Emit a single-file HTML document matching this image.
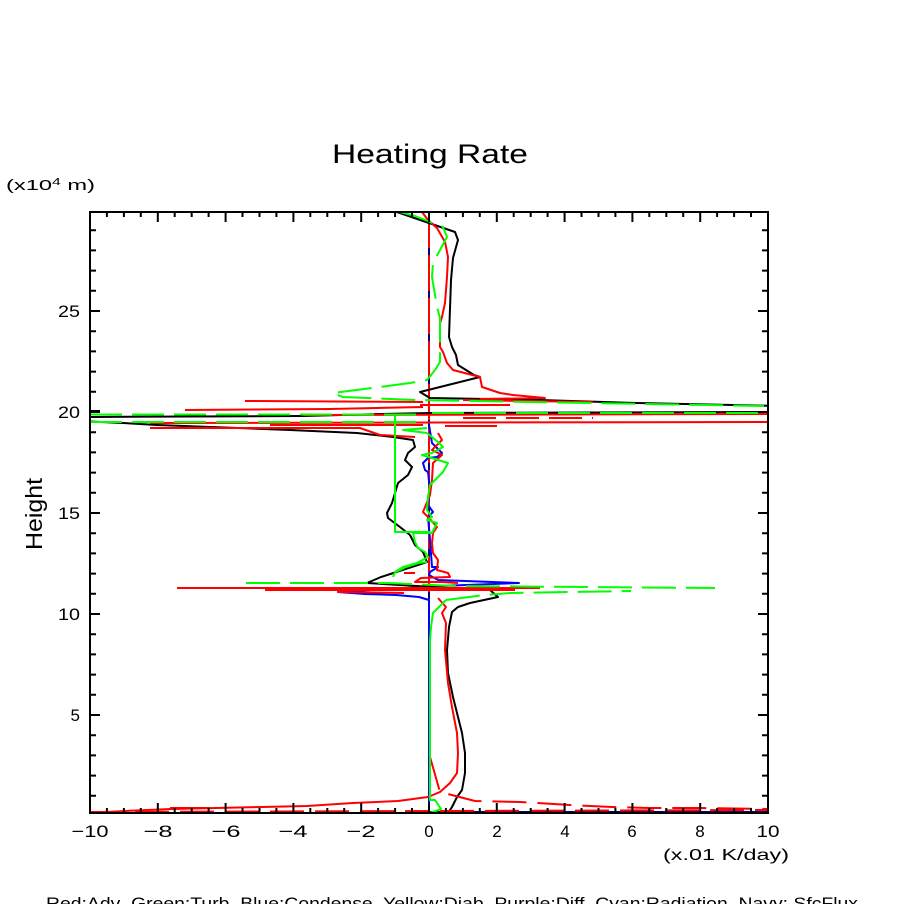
<!DOCTYPE html>
<html>
<head>
<meta charset="utf-8">
<style>
html,body{margin:0;padding:0;background:#fff;}
svg{display:block;}
text{font-family:"Liberation Sans",sans-serif;fill:#000;}
</style>
</head>
<body>
<svg width="904" height="904" viewBox="0 0 904 904" xmlns="http://www.w3.org/2000/svg">
<defs>
<clipPath id="plot"><rect x="90" y="212" width="678" height="601"/></clipPath>
</defs>
<rect x="0" y="0" width="904" height="904" fill="#fff"/>

<!-- Title and labels -->
<text x="430" y="163" font-size="27" text-anchor="middle" textLength="196" lengthAdjust="spacingAndGlyphs">Heating Rate</text>
<text x="6" y="190" font-size="15" textLength="89" lengthAdjust="spacingAndGlyphs">(x10<tspan font-size="10" dy="-5">4</tspan><tspan dy="5"> m)</tspan></text>
<text transform="translate(42,514) rotate(-90)" font-size="23" text-anchor="middle" textLength="72" lengthAdjust="spacingAndGlyphs">Height</text>
<text x="663" y="860" font-size="16" textLength="126" lengthAdjust="spacingAndGlyphs">(x.01 K/day)</text>
<text x="46" y="909" font-size="17" xml:space="preserve" style="white-space:pre" textLength="812" lengthAdjust="spacingAndGlyphs">Red:Adv  Green:Turb  Blue:Condense  Yellow:Diab  Purple:Diff  Cyan:Radiation  Navy: SfcFlux</text>

<!-- X tick labels -->
<g font-size="17" text-anchor="middle">
<text x="90" y="837" textLength="37" lengthAdjust="spacingAndGlyphs">−10</text>
<text x="158" y="837" textLength="29" lengthAdjust="spacingAndGlyphs">−8</text>
<text x="226" y="837" textLength="29" lengthAdjust="spacingAndGlyphs">−6</text>
<text x="293" y="837" textLength="29" lengthAdjust="spacingAndGlyphs">−4</text>
<text x="361" y="837" textLength="29" lengthAdjust="spacingAndGlyphs">−2</text>
<text x="429" y="837">0</text>
<text x="497" y="837">2</text>
<text x="565" y="837">4</text>
<text x="632" y="837">6</text>
<text x="700" y="837">8</text>
<text x="768" y="837" textLength="23" lengthAdjust="spacingAndGlyphs">10</text>
</g>
<!-- Y tick labels -->
<g font-size="17" text-anchor="end">
<text x="80" y="317" textLength="22" lengthAdjust="spacingAndGlyphs">25</text>
<text x="80" y="418" textLength="22" lengthAdjust="spacingAndGlyphs">20</text>
<text x="80" y="519" textLength="22" lengthAdjust="spacingAndGlyphs">15</text>
<text x="80" y="620" textLength="22" lengthAdjust="spacingAndGlyphs">10</text>
<text x="80" y="721">5</text>
</g>

<!-- Data series -->
<g fill="none" stroke-width="2" stroke-linejoin="round" clip-path="url(#plot)">
<!-- navy vertical and surface flux -->
<line x1="429" y1="212" x2="429" y2="813" stroke="#000080"/>
<line x1="429" y1="812" x2="768" y2="812" stroke="#000080"/>

<!-- red dashed vertical at zero (upper) -->
<line x1="429" y1="212" x2="429" y2="600" stroke="#ff0000" stroke-dasharray="36 7"/>

<!-- Blue condense -->
<polyline stroke="#0000ff" points="429,425 432,443 442,453 437,457 428,458 423,463 425,470 428,472 430,490 428,505 433,512 428,517 430,540 432,567 438,567 430,572 429,575 438,580 519,583 440,586 338,592 365,594 396,595 419,597 429,600"/>
<line x1="429" y1="600" x2="429" y2="813" stroke="#0000ff"/>

<!-- Black -->
<polyline stroke="#000" points="397,212 455,232 458,240 453,258 451,280 449,337 452,347 456,355 458,365 474,375 480,377 440,387 420,392 430,398 540,400 637,403 780,406"/>
<polyline stroke="#000" points="780,412 430,413 380,414 303,416 80,417"/>
<polyline stroke="#000" points="80,411 100,411"/>
<polyline stroke="#000" points="80,421 123,423 157,425 290,430 357,433 393,437 413,440 415,447 408,453 405,460 412,467 408,475 398,483 395,493 392,503 387,513 388,518 400,527 410,535 415,545 423,552 427,562 381,577 367,583 450,588 490,590 498,597 470,603 458,607 452,612 449,627 447,650 448,673 453,697 457,713 462,733 465,753 465,773 462,790 457,797 452,807 448,813"/>

<!-- Red solid (advection) -->
<polyline stroke="#ff0000" points="422,212 428,220 437,228 445,242 448,257 447,277 445,303 442,317 440,323 440,347 443,352 447,363 453,370 480,377 482,387 500,393 513,395 545,398 480,399"/>
<polyline stroke="#ff0000" points="463,400 593,402"/>
<polyline stroke="#ff0000" points="420,405 510,405"/>
<polyline stroke="#ff0000" points="245,401 423,402"/>
<polyline stroke="#ff0000" points="185,410 330,409 423,407"/>
<polyline stroke="#ff0000" points="303,415 780,414"/>
<polyline stroke="#ff0000" points="150,423 780,422"/>
<polyline stroke="#ff0000" points="150,428 360,428 380,435 415,437"/>
<polyline stroke="#ff0000" points="270,425 423,425"/>
<polyline stroke="#ff0000" points="445,426 497,426"/>
<polyline stroke="#ff0000" stroke-dasharray="33 10" points="463,418 593,418"/>
<polyline stroke="#ff0000" points="438,433 442,440 437,445 432,450 442,455 433,463 432,480 430,495 423,512 428,517 437,527 433,533 432,543 433,553 438,560 437,570 448,573 450,577 421,578 415,582 442,582 458,583"/>
<polyline stroke="#ff0000" points="404,573 415,573"/>
<polyline stroke="#ff0000" points="177,588 540,588"/>
<polyline stroke="#ff0000" points="265,590 515,590"/>
<polyline stroke="#ff0000" points="338,592 404,593"/>
<polyline stroke="#ff0000" points="438,598 446,607 442,613 446,623 445,650 448,683 452,707 457,733 458,753 457,773 450,783 440,792 428,797 398,801 353,803 307,806 262,807 216,808 171,809 125,811 90,813"/>

<!-- Red dashed (lower) -->
<polyline stroke="#ff0000" stroke-dasharray="34 11" points="430,757 438,785 440,792 475,801 520,802 570,805 612,807 650,808 700,808 768,809"/>
<polyline stroke="#ff0000" stroke-dasharray="34 11" points="90,812 429,811"/>
<polyline stroke="#ff0000" stroke-dasharray="34 11" points="440,811 768,810"/>
<polyline stroke="#ff0000" points="170,808 210,808"/>

<!-- Green solid (turb) -->
<polyline stroke="#00ff00" points="395,414 395,532 430,532"/>
<polyline stroke="#00ff00" points="446,600 433,613 431,627 430,640 430,800 435,800 441,809 430,813 419,814"/>

<!-- Green dashed -->
<polyline stroke="#00ff00" stroke-dasharray="34 10" points="400,212 415,216 443,227 447,237 433,263 432,277 437,307 440,318 440,350 440,362 435,370 427,380 410,383 333,393 343,397 415,400 764,406"/>
<polyline stroke="#00ff00" stroke-dasharray="32 10" points="432,413 768,413"/>
<polyline stroke="#00ff00" stroke-dasharray="32 10" points="90,414.5 420,414.5"/>
<polyline stroke="#00ff00" stroke-dasharray="32 10" points="90,422 423,422"/>
<polyline stroke="#00ff00" points="427,428 403,430 427,433"/>
<polyline stroke="#00ff00" points="427,433 438,442 443,447 432,453 422,455 448,463 443,472 430,485 428,497 427,510 432,517 427,520 437,523 432,533 413,533 415,542 418,548 425,552 428,557 417,563 403,567 395,572 393,577"/>
<polyline stroke="#00ff00" points="396,572 406,567 419,563 427,562"/>
<polyline stroke="#00ff00" stroke-dasharray="34 10" points="246,583 388,583 454,586 715,588"/>
<polyline stroke="#00ff00" stroke-dasharray="34 10" points="446,600 485,595 510,593 631,591"/>
</g>

<!-- Axes box -->
<rect x="90" y="212" width="678" height="601" fill="none" stroke="#000" stroke-width="2"/>

<!-- Ticks -->
<g stroke="#000" stroke-width="2">
<path d="M90,813v-10M157.8,813v-10M225.6,813v-10M293.4,813v-10M361.2,813v-10M429,813v-10M496.8,813v-10M564.6,813v-10M632.4,813v-10M700.2,813v-10M768,813v-10
M90,212v10M157.8,212v10M225.6,212v10M293.4,212v10M361.2,212v10M429,212v10M496.8,212v10M564.6,212v10M632.4,212v10M700.2,212v10M768,212v10"/>
<path d="M106.9,813v-5M123.9,813v-5M140.8,813v-5M174.7,813v-5M191.7,813v-5M208.6,813v-5M242.5,813v-5M259.5,813v-5M276.4,813v-5M310.3,813v-5M327.3,813v-5M344.2,813v-5M378.1,813v-5M395.1,813v-5M412,813v-5M445.9,813v-5M462.9,813v-5M479.8,813v-5M513.7,813v-5M530.7,813v-5M547.6,813v-5M581.5,813v-5M598.5,813v-5M615.4,813v-5M649.3,813v-5M666.3,813v-5M683.2,813v-5M717.1,813v-5M734.1,813v-5M751,813v-5
M106.9,212v5M123.9,212v5M140.8,212v5M174.7,212v5M191.7,212v5M208.6,212v5M242.5,212v5M259.5,212v5M276.4,212v5M310.3,212v5M327.3,212v5M344.2,212v5M378.1,212v5M395.1,212v5M412,212v5M445.9,212v5M462.9,212v5M479.8,212v5M513.7,212v5M530.7,212v5M547.6,212v5M581.5,212v5M598.5,212v5M615.4,212v5M649.3,212v5M666.3,212v5M683.2,212v5M717.1,212v5M734.1,212v5M751,212v5"/>
<path d="M90,311h10M90,412h10M90,513h10M90,614h10M90,715h10M768,311h-10M768,412h-10M768,513h-10M768,614h-10M768,715h-10"/>
<path d="M90,795.8h6M90,775.6h6M90,755.4h6M90,735.2h6M90,694.8h6M90,674.6h6M90,654.4h6M90,634.2h6M90,593.8h6M90,573.6h6M90,553.4h6M90,533.2h6M90,492.8h6M90,472.6h6M90,452.4h6M90,432.2h6M90,391.8h6M90,371.6h6M90,351.4h6M90,331.2h6M90,290.8h6M90,270.6h6M90,250.4h6M90,230.2h6
M768,795.8h-6M768,775.6h-6M768,755.4h-6M768,735.2h-6M768,694.8h-6M768,674.6h-6M768,654.4h-6M768,634.2h-6M768,593.8h-6M768,573.6h-6M768,553.4h-6M768,533.2h-6M768,492.8h-6M768,472.6h-6M768,452.4h-6M768,432.2h-6M768,391.8h-6M768,371.6h-6M768,351.4h-6M768,331.2h-6M768,290.8h-6M768,270.6h-6M768,250.4h-6M768,230.2h-6"/>
</g>
</svg>
</body>
</html>
